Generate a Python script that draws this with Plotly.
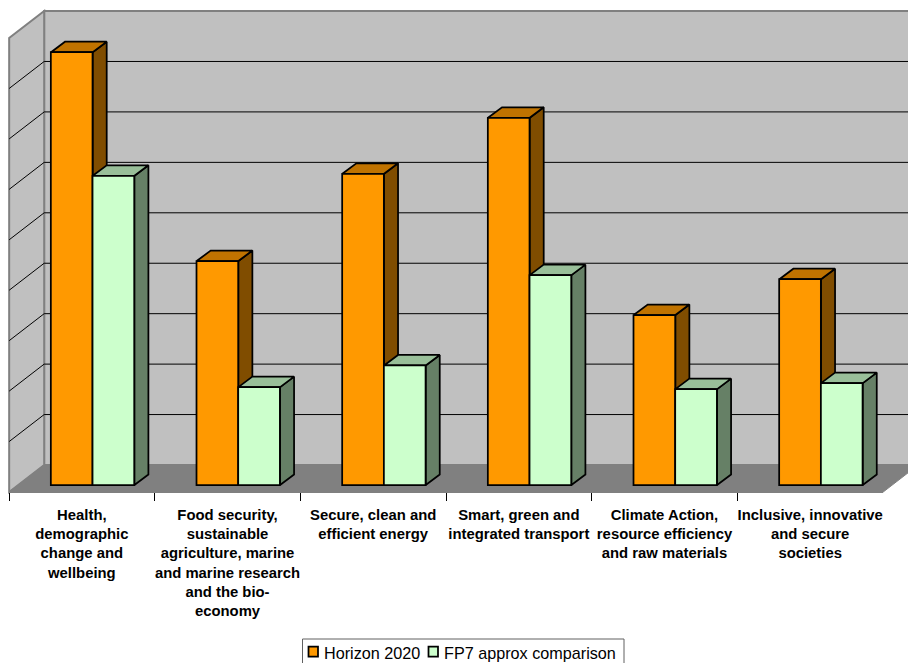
import plotly.graph_objects as go

# Research budget by societal challenge, in gridline units
categories = [
    "Health,<br>demographic<br>change and<br>wellbeing",
    "Food security,<br>sustainable<br>agriculture, marine<br>and marine research<br>and the bio-<br>economy",
    "Secure, clean and<br>efficient energy",
    "Smart, green and<br>integrated transport",
    "Climate Action,<br>resource efficiency<br>and raw materials",
    "Inclusive, innovative<br>and secure<br>societies",
]
horizon_2020 = [8.58, 4.44, 6.17, 7.28, 3.37, 4.08]
fp7_comparison = [6.13, 1.94, 2.37, 4.16, 1.90, 2.02]
grid_levels = [1, 2, 3, 4, 5, 6, 7, 8]
series_names = ["Horizon 2020", "FP7 approx comparison"]

# Screen scale of the chart
W, H = 908, 663
PX_PER_CAT = 145.67
PX_PER_UNIT = 50.44
CAT0_PX = 82.0
BASE_PX = 485.0


def px_x(px):
    return (px - CAT0_PX) / PX_PER_CAT


def px_y(px):
    return (BASE_PX - px) / PX_PER_UNIT


# Oblique offsets for the 3-D look, in data units
ROOM_DX, ROOM_DY = 35 / PX_PER_CAT, 27 / PX_PER_UNIT
BAR_DX, BAR_DY = 14 / PX_PER_CAT, 10.5 / PX_PER_UNIT
BAR_WIDTH = 41.7 / PX_PER_CAT
OFFSETS = [px_x(51), px_x(92.7)]
FLOOR_Y = px_y(492)
LEFT, RIGHT = -0.5, 5.5
ROOF = 9

WALL = "#C0C0C0"
FLOOR = "#808080"
EDGE = "#808080"
FONT = "Liberation Sans, Arial"
OUTLINE = 1.75


def poly(points):
    return "M" + " L".join(f"{x},{y}" for x, y in points) + " Z"


def line_shape(points, color, width):
    path = "M" + " L".join(f"{x},{y}" for x, y in points)
    return dict(type="path", path=path, xref="x", yref="y", layer="below",
                line=dict(color=color, width=width))


shapes = []
# Back wall, side wall and floor of the chart box
shapes.append(dict(type="path", xref="x", yref="y", layer="below", fillcolor=WALL,
                   line=dict(color=EDGE, width=2),
                   path=poly([(LEFT + ROOM_DX, FLOOR_Y + ROOM_DY),
                              (RIGHT + ROOM_DX, FLOOR_Y + ROOM_DY),
                              (RIGHT + ROOM_DX, FLOOR_Y + ROOM_DY + ROOF),
                              (LEFT + ROOM_DX, FLOOR_Y + ROOM_DY + ROOF)])))
shapes.append(dict(type="path", xref="x", yref="y", layer="below", fillcolor=WALL,
                   line=dict(color=EDGE, width=2),
                   path=poly([(LEFT, FLOOR_Y), (LEFT + ROOM_DX, FLOOR_Y + ROOM_DY),
                              (LEFT + ROOM_DX, FLOOR_Y + ROOM_DY + ROOF), (LEFT, FLOOR_Y + ROOF)])))
shapes.append(dict(type="path", xref="x", yref="y", layer="below", fillcolor=FLOOR,
                   line=dict(color=FLOOR, width=1),
                   path=poly([(LEFT, FLOOR_Y), (RIGHT, FLOOR_Y),
                              (RIGHT + ROOM_DX, FLOOR_Y + ROOM_DY), (LEFT + ROOM_DX, FLOOR_Y + ROOM_DY)])))
# Gridlines run along the side wall and across the back wall
for level in grid_levels:
    y = FLOOR_Y + level
    shapes.append(line_shape([(LEFT, y), (LEFT + ROOM_DX, y + ROOM_DY), (RIGHT + ROOM_DX, y + ROOM_DY)],
                             "#000000", 1))


def faces(values, offset):
    """Outline the right side and the top of each bar as filled polygons."""
    sx, sy, tx, ty = [], [], [], []
    for i, v in enumerate(values):
        x0 = i + offset
        x1 = x0 + BAR_WIDTH
        sx += [x1, x1 + BAR_DX, x1 + BAR_DX, x1, x1, None]
        sy += [0, BAR_DY, v + BAR_DY, v, 0, None]
        tx += [x0, x0 + BAR_DX, x1 + BAR_DX, x1, x0, None]
        ty += [v, v + BAR_DY, v + BAR_DY, v, v, None]
    return sx, sy, tx, ty


fig = go.Figure()
series = [
    (series_names[0], horizon_2020, "#FF9900", "#C07300", "#804D00"),
    (series_names[1], fp7_comparison, "#CCFFCC", "#99BF99", "#668066"),
]

for (name, values, front, top, side), offset in zip(series, OFFSETS):
    sx, sy, tx, ty = faces(values, offset)
    for fx, fy, color in ((sx, sy, side), (tx, ty, top)):
        fig.add_trace(go.Scatter(x=fx, y=fy, mode="lines", fill="toself", fillcolor=color,
                                 line=dict(color="#000000", width=OUTLINE), showlegend=False,
                                 hoverinfo="skip", xaxis="x", yaxis="y"))

for (name, values, front, top, side), offset in zip(series, OFFSETS):
    fig.add_trace(go.Bar(x=categories, y=values, name=name, width=BAR_WIDTH, offset=offset,
                         marker=dict(color=front, line=dict(color="#000000", width=OUTLINE)),
                         showlegend=False, xaxis="x2", yaxis="y2"))

# Legend box runs past the lower page edge
annotations = []
shapes.append(dict(type="rect", xref="paper", yref="paper", layer="above",
                   x0=302.5 / W, x1=624 / W, y0=1 - 672 / H, y1=1 - 639 / H,
                   fillcolor="#FFFFFF", line=dict(color="#606060", width=1)))
legend_items = [(308.5, 322.5, series[0][2]), (428.5, 442.5, series[1][2])]
for (swatch_px, text_px, color), name in zip(legend_items, series_names):
    shapes.append(dict(type="rect", xref="paper", yref="paper", layer="above",
                       x0=swatch_px / W, x1=(swatch_px + 9.5) / W,
                       y0=1 - 656.5 / H, y1=1 - 646.5 / H,
                       fillcolor=color, line=dict(color="#000000", width=1.75)))
    annotations.append(dict(x=text_px / W, y=1 - 653 / H, xref="paper", yref="paper", text=name,
                            showarrow=False, xanchor="left", yanchor="middle", borderpad=0,
                            font=dict(family=FONT, size=16.2, color="#000000")))

y_range = [px_y(H), px_y(0)]
fig.update_layout(
    width=W, height=H, margin=dict(l=0, r=0, t=0, b=0, autoexpand=False),
    paper_bgcolor="#FFFFFF", plot_bgcolor="rgba(0,0,0,0)",
    barmode="overlay", shapes=shapes, annotations=annotations, showlegend=False,
    font=dict(family=FONT, size=14.85, color="#000000"),
    xaxis=dict(domain=[0, 1], range=[px_x(0), px_x(W)], visible=False),
    yaxis=dict(domain=[0, 1], range=y_range, visible=False),
    xaxis2=dict(domain=[9 / W, 883 / W], range=[LEFT, RIGHT], type="category",
                anchor="free", position=1 - 492 / H,
                tickson="boundaries", tickangle=0, ticklabelstandoff=9,
                tickfont=dict(family=FONT, size=14.85, color="#000000", weight="bold"),
                ticks="outside", ticklen=8, tickcolor="#000000", tickwidth=1,
                showline=True, linecolor=EDGE, linewidth=1, showgrid=False, zeroline=False),
    yaxis2=dict(domain=[0, 1], range=y_range, visible=False, anchor="x2"),
)

fig.write_html("out.html")
